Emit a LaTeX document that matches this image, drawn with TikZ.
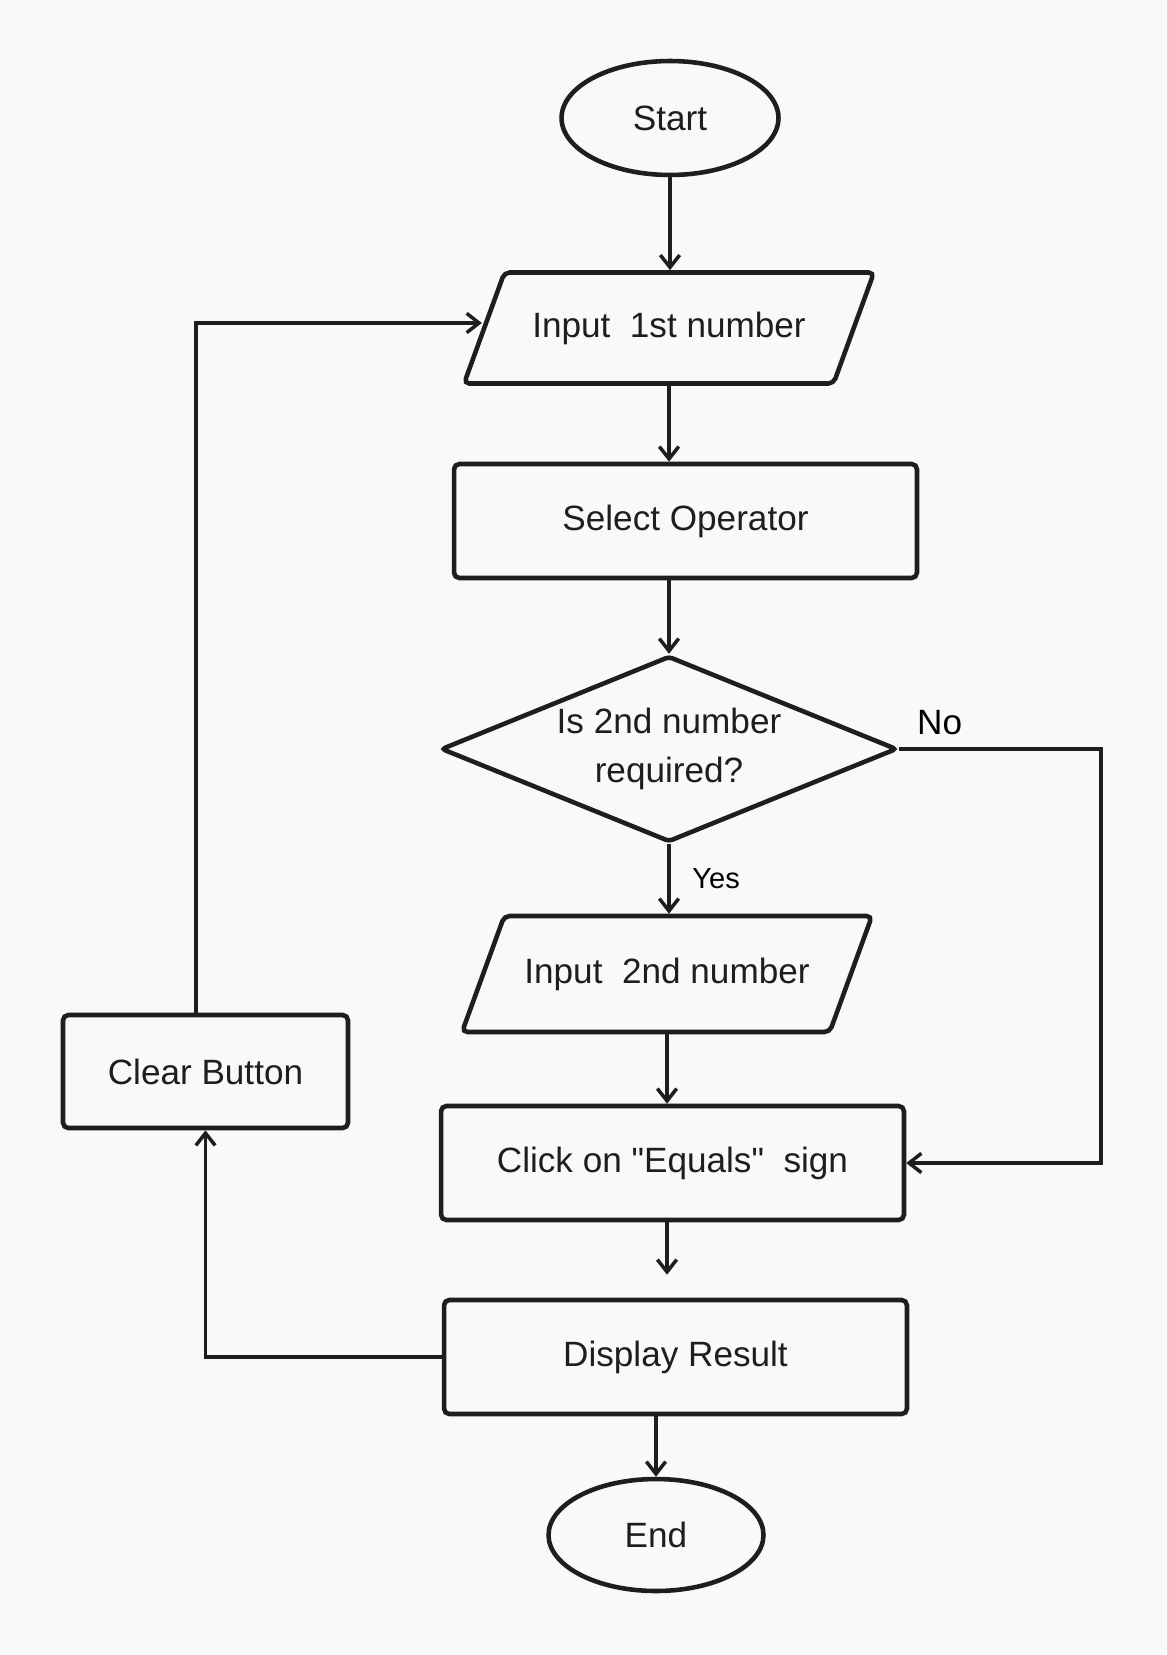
\documentclass[tikz,border=0pt]{standalone}
\usepackage{fontspec}
\setmainfont{Liberation Sans}
\usetikzlibrary{shapes.geometric}
\usetikzlibrary{arrows.meta}

\definecolor{paper}{HTML}{F8F9FB}
\definecolor{ink}{HTML}{1E1E1E}

\begin{document}
\begin{tikzpicture}[x=0.02cm,y=-0.02cm,
    font=\fontsize{20}{24}\selectfont,
    shape line/.style={draw=ink,line width=2.6pt,text=ink},
    terminal/.style={shape line,ellipse,minimum width=4.34cm,minimum height=2.28cm,inner sep=0pt},
    process/.style={shape line,rectangle,rounded corners=3pt,minimum width=9.26cm,minimum height=2.28cm},
    io/.style={shape line,trapezium,trapezium left angle=70,trapezium right angle=110,
      trapezium stretches body=true,rounded corners=3pt,minimum width=8.2cm,
      text height=14.6pt,text depth=4.2pt,inner ysep=22.2pt},
    decision/.style={shape line,diamond,aspect=2.45,rounded corners=2pt,minimum width=9.12cm,minimum height=3.72cm,
      inner sep=0pt,align=center,font=\fontsize{20}{28}\selectfont},
    flow/.style={draw=ink,line width=2pt,-{Straight Barb[length=7pt,width=11pt]}}]
    % Background
    \fill[paper] (0,0) rectangle (1166,1655);
    \useasboundingbox (0,0) rectangle (1166,1655);

    % Steps
    \node (start) [terminal] at (670,118) {Start};
    \node (first) [io] at (669,328) {Input\ \ 1st number};
    \node (select) [process] at (685.5,521) {Select Operator};
    \node (needsecond) [decision] at (669,749) {Is 2nd number\\required?};
    \node (second) [io,inner ysep=23.6pt] at (667,974) {Input\ \ 2nd number};
    \node (equals) [process] at (672.5,1163) {Click on \textquotedbl Equals\textquotedbl\ \ sign};
    \node (result) [process] at (675.5,1357) {Display Result};
    \node (finish) [terminal,minimum width=4.3cm,minimum height=2.24cm] at (656,1535) {End};
    \node (clear) [process,minimum width=5.7cm,minimum height=2.26cm] at (205.5,1071.5) {Clear Button};

    % Main flow
    \draw [flow] (start) -- (start |- first.north);
    \draw [flow] (first.south) -- (first.south |- select.north);
    \draw [flow] (select.south -| needsecond.north) -- (needsecond.north);
    \draw [flow] (needsecond.south) -- (needsecond.south |- second.north)
        node[midway,right,xshift=9pt,font=\fontsize{16.5}{20}\selectfont] {Yes};
    \draw [flow] (second.south) -- (second.south |- equals.north);
    \draw [flow,shorten >=0.46cm] (equals.south -| second.south) -- (second.south |- result.north);
    \draw [flow] (result.south -| finish.north) -- (finish.north);

    % No branch
    \coordinate (noturn) at (1101,749);
    \draw [flow] (needsecond.east) -- node[pos=0.2,above,yshift=4pt] {No} (noturn) |- (equals.east);

    % Back to the start
    \draw [flow] (result.west) -| (clear.south);
    \draw [flow] ([xshift=-0.19cm]clear.north) |- ([yshift=0.1cm]first.west);
\end{tikzpicture}
\end{document}
